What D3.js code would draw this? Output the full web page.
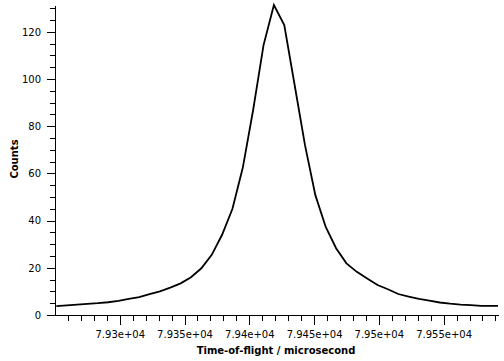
<!DOCTYPE html>
<html>
<head>
<meta charset="utf-8">
<script src="https://cdn.jsdelivr.net/npm/d3@7"></script>
<style>
	body { margin: 0; background: #fff; }
	svg { display: block; }
	.axis text { font-family: "DejaVu Sans", sans-serif; font-size: 10px; fill: #000; }
	.axis path, .axis line { stroke: #000; shape-rendering: crispEdges; }
	.title { font-family: "DejaVu Sans", sans-serif; font-size: 10px; font-weight: bold; fill: #000; }
</style>
</head>
<body>
<svg id="chart" width="504" height="361"></svg>
<script>
// time-of-flight bins (microsecond)
var tof = [79251, 79259, 79267, 79275, 79283, 79291, 79299, 79307, 79315, 79323,
	79331, 79339, 79347, 79355, 79363, 79371, 79379, 79387, 79395, 79403,
	79411, 79419, 79427, 79435, 79443, 79451, 79459, 79467, 79475, 79483,
	79491, 79499, 79507, 79515, 79523, 79531, 79539, 79547, 79555, 79563,
	79571, 79579, 79587, 79595];

var counts = [3.8, 4.1, 4.4, 4.7, 5.0, 5.4, 6.0, 6.8, 7.6, 8.8,
	10.0, 11.6, 13.4, 16.0, 19.8, 25.5, 34.0, 45.0, 62.5, 87.0,
	114.4, 131.4, 122.9, 97.5, 72.0, 50.8, 37.3, 28.3, 21.9, 18.3,
	15.5, 12.7, 10.9, 8.9, 7.8, 6.8, 6.1, 5.3, 4.8, 4.4,
	4.2, 3.9, 3.9, 3.8];

var xTicks = [79300, 79350, 79400, 79450, 79500, 79550];
var xTickLabels = ["7.93e+04", "7.935e+04", "7.94e+04", "7.945e+04", "7.95e+04", "7.955e+04"];
var yTicks = [0, 20, 40, 60, 80, 100, 120];

var plotLeft = 55, plotRight = 498, plotTop = 5, plotBottom = 315;

var svg = d3.select("#chart");

var x = d3.scaleLinear()
	.domain([79250, 79592])
	.range([plotLeft, plotRight]);

var y = d3.scaleLinear()
	.domain([0, d3.max(counts)])
	.range([plotBottom, plotTop]);

// minor ticks every 10 on x, every 5 on y
var xMinor = d3.range(79260, 79592, 10).filter(function(v){ return xTicks.indexOf(v) < 0; });
var yMinor = d3.range(5, d3.max(counts), 5).filter(function(v){ return yTicks.indexOf(v) < 0; });

svg.append("g")
	.attr("class", "axis")
	.attr("transform", "translate(0," + plotBottom + ")")
	.call(d3.axisBottom(x).tickValues(xMinor).tickSize(6).tickSizeOuter(0).tickFormat(""));

svg.append("g")
	.attr("class", "axis")
	.attr("transform", "translate(0," + plotBottom + ")")
	.call(d3.axisBottom(x).tickValues(xTicks).tickSize(10).tickSizeOuter(0).tickPadding(6)
		.tickFormat(function(d, i){ return xTickLabels[i]; }));

svg.append("g")
	.attr("class", "axis")
	.attr("transform", "translate(" + plotLeft + ",0)")
	.call(d3.axisLeft(y).tickValues(yMinor).tickSize(5).tickSizeOuter(0).tickFormat(""));

svg.append("g")
	.attr("class", "axis")
	.attr("transform", "translate(" + plotLeft + ",0)")
	.call(d3.axisLeft(y).tickValues(yTicks).tickSize(8).tickSizeOuter(0).tickPadding(6));

svg.append("clipPath")
	.attr("id", "clip")
	.append("rect")
	.attr("x", plotLeft).attr("y", 0)
	.attr("width", plotRight - plotLeft).attr("height", plotBottom);

var line = d3.line()
	.x(function(d, i){ return x(tof[i]); })
	.y(function(d){ return y(d); });

svg.append("path")
	.datum(counts)
	.attr("clip-path", "url(#clip)")
	.attr("fill", "none")
	.attr("stroke", "#000")
	.attr("stroke-width", 1.8)
	.attr("stroke-linejoin", "miter")
	.attr("d", line);

svg.append("text")
	.attr("class", "title")
	.attr("x", 276)
	.attr("y", 354)
	.attr("text-anchor", "middle")
	.text("Time-of-flight / microsecond");

svg.append("text")
	.attr("class", "title")
	.attr("transform", "translate(18,159) rotate(-90)")
	.attr("text-anchor", "middle")
	.text("Counts");
</script>
</body>
</html>
